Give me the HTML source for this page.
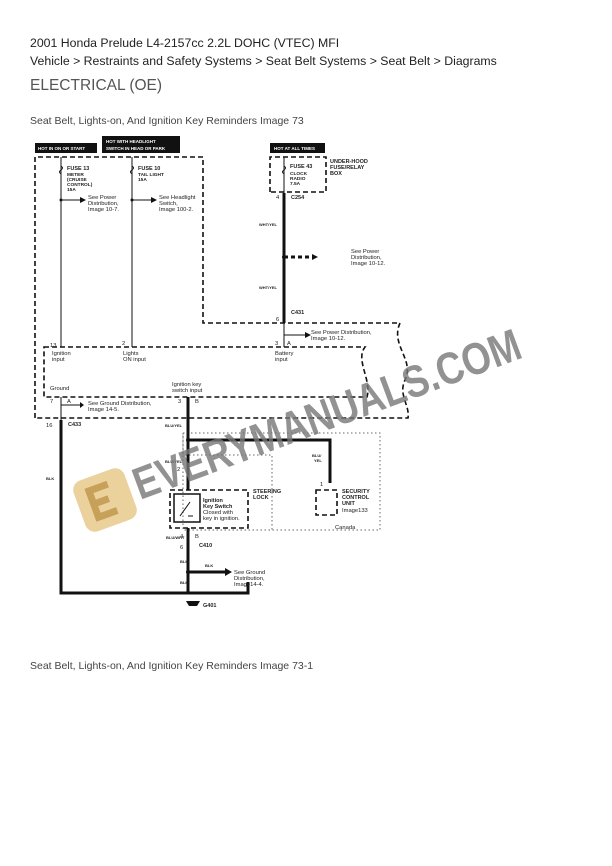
<!DOCTYPE html>
<html><head><meta charset="utf-8"><style>
html,body{margin:0;padding:0;background:#fff;}
body{width:612px;height:866px;position:relative;overflow:hidden;font-family:"Liberation Sans",sans-serif;}
.t{position:absolute;left:30px;white-space:nowrap;color:#222;}
</style></head><body>
<div class="t" style="top:36px;font-size:12.3px;">2001 Honda Prelude L4-2157cc 2.2L DOHC (VTEC) MFI</div>
<div class="t" style="top:54px;font-size:12.3px;">Vehicle &gt; Restraints and Safety Systems &gt; Seat Belt Systems &gt; Seat Belt &gt; Diagrams</div>
<div class="t" style="top:77px;font-size:15.5px;color:#555;">ELECTRICAL (OE)</div>
<div class="t" style="top:115px;font-size:10.5px;color:#444;">Seat Belt, Lights-on, And Ignition Key Reminders Image 73</div>
<div class="t" style="top:660px;font-size:10.5px;color:#444;">Seat Belt, Lights-on, And Ignition Key Reminders Image 73-1</div>
<svg width="612" height="866" style="position:absolute;left:0;top:0" font-family="Liberation Sans, sans-serif">
<g fill="#111">
<rect x="35" y="143" width="62" height="10"/><rect x="102" y="136" width="78" height="17"/><rect x="270" y="143" width="55" height="10"/>
</g>
<g fill="#fff" font-size="4.5" font-weight="bold">
<text x="38" y="150">HOT IN ON OR START</text>
<text x="106" y="143">HOT WITH HEADLIGHT</text><text x="106" y="150">SWITCH IN HEAD OR PARK</text>
<text x="274" y="150">HOT AT ALL TIMES</text>
</g>
<g fill="none" stroke="#111" stroke-width="1.6" stroke-dasharray="5,3">
<path d="M35 418 V157 H203 V323 H400 C390 345,415 360,405 380 C398 395,410 405,408 418 H35"/>
<path d="M44 347 H365 C355 360,372 380,367 397 H44 Z"/>
<path d="M270 192 V157 H326 V192 Z"/>
<rect x="170" y="490" width="78" height="38"/>
<rect x="316" y="490" width="21" height="25"/>
</g>
<path d="M183 433 H380 V530 H183 Z M183 433 V455 H272 V530" fill="none" stroke="#666" stroke-width="1" stroke-dasharray="1.5,2.5"/>
<g stroke="#111" fill="none" stroke-width="1">
<path d="M61 157 V347 M132 157 V347 M284 157 V347 M61 397 V420"/>
<path d="M61 166 q3 2 0 4 q-3 2 0 4 M132 166 q3 2 0 4 q-3 2 0 4 M284 166 q3 2 0 4 q-3 2 0 4"/>
<path d="M61 200 H80 M132 200 H151 M284 335 H305 M61 405 H80"/>
</g>
<g stroke="#111" fill="none" stroke-width="3">
<path d="M284 193 V323"/>
<path d="M188 397 V490 M188 440 H330 V483 M188 528 V593 M61 420 V593 H248 V582 M188 572 H225"/>
<path d="M284 257 H312" stroke-dasharray="4,3"/>
</g>
<g fill="#111">
<polygon points="80,197 86,200 80,203"/><polygon points="151,197 157,200 151,203"/><polygon points="305,332 311,335 305,338"/><polygon points="312,254 318,257 312,260"/>
<polygon points="80,402 80,408 84,405"/><polygon points="225,568 225,576 232,572"/>
<circle cx="61" cy="200" r="1.5"/><circle cx="132" cy="200" r="1.5"/><circle cx="284" cy="257" r="2"/><circle cx="188" cy="440" r="2"/><circle cx="188" cy="572" r="2"/>
<path d="M186 601 h14 l-3 5 h-8z"/>
</g>
<rect x="174" y="494" width="26" height="28" fill="none" stroke="#111" stroke-width="1.5"/>
<path d="M180 516 L190 502 M188 516 h5" stroke="#111" stroke-width="1"/>
<g fill="#222" font-size="4.8" font-weight="bold">
<text x="67" y="170" font-size="5.5">FUSE 13</text><text x="67" y="176">METER</text><text x="67" y="181">(CRUISE</text><text x="67" y="186">CONTROL)</text><text x="67" y="191">15A</text>
<text x="138" y="170" font-size="5.5">FUSE 10</text><text x="138" y="176">TAIL LIGHT</text><text x="138" y="181">15A</text>
<text x="290" y="168" font-size="5.5">FUSE 43</text><text x="290" y="175">CLOCK</text><text x="290" y="180">RADIO</text><text x="290" y="185">7.5A</text>
<text x="330" y="163" font-size="5.5">UNDER-HOOD</text><text x="330" y="169" font-size="5.5">FUSE/RELAY</text><text x="330" y="175" font-size="5.5">BOX</text>
<text x="291" y="199" font-size="5.5">C254</text><text x="291" y="314" font-size="5.5">C431</text><text x="68" y="426" font-size="5.5">C433</text>
<text x="199" y="547" font-size="5.5">C410</text><text x="203" y="607" font-size="5.5">G401</text>
<text x="253" y="493" font-size="5.5">STEERING</text><text x="253" y="499" font-size="5.5">LOCK</text>
<text x="203" y="502" font-size="5.5">Ignition</text><text x="203" y="508" font-size="5.5">Key Switch</text>
<text x="342" y="493" font-size="5.5">SECURITY</text><text x="342" y="499" font-size="5.5">CONTROL</text><text x="342" y="505" font-size="5.5">UNIT</text>
<text x="259" y="226" font-size="4">WHT/YEL</text><text x="259" y="289" font-size="4">WHT/YEL</text>
<text x="165" y="427" font-size="4">BLU/YEL</text><text x="165" y="463" font-size="4">BLU/YEL</text><text x="312" y="457" font-size="4">BLU/</text><text x="314" y="462" font-size="4">YEL</text>
<text x="166" y="539" font-size="4">BLU/WHT</text><text x="180" y="563" font-size="4">BLK</text><text x="205" y="567" font-size="4">BLK</text><text x="180" y="584" font-size="4">BLK</text><text x="46" y="480" font-size="4">BLK</text>
</g>
<g fill="#222" font-size="5.8">
<text x="88" y="199">See Power</text><text x="88" y="205">Distribution,</text><text x="88" y="211">Image 10-7.</text>
<text x="159" y="199">See Headlight</text><text x="159" y="205">Switch,</text><text x="159" y="211">Image 100-2.</text>
<text x="351" y="253">See Power</text><text x="351" y="259">Distribution,</text><text x="351" y="265">Image 10-12.</text>
<text x="311" y="334">See Power Distribution,</text><text x="311" y="340">Image 10-12.</text>
<text x="88" y="405">See Ground Distribution,</text><text x="88" y="411">Image 14-5.</text>
<text x="52" y="355">Ignition</text><text x="52" y="361">input</text>
<text x="123" y="355">Lights</text><text x="123" y="361">ON input</text>
<text x="275" y="355">Battery</text><text x="275" y="361">input</text>
<text x="50" y="390">Ground</text><text x="172" y="386">Ignition key</text><text x="172" y="392">switch input</text>
<text x="203" y="514">Closed with</text><text x="203" y="520">key in ignition.</text>
<text x="342" y="512">Image133</text><text x="335" y="529">Canada</text>
<text x="234" y="574">See Ground</text><text x="234" y="580">Distribution,</text><text x="234" y="586">Image14-4.</text>
<text x="50" y="347">13</text><text x="122" y="345">2</text><text x="275" y="345">3</text><text x="287" y="345">A</text>
<text x="50" y="403">7</text><text x="67" y="403">A</text><text x="46" y="427">16</text><text x="178" y="403">3</text><text x="195" y="403">B</text>
<text x="276" y="199">4</text><text x="276" y="321">6</text><text x="177" y="471">2</text><text x="180" y="538">4</text><text x="195" y="538">B</text><text x="180" y="549">6</text><text x="320" y="486">1</text>
</g>
<g transform="translate(105,500) rotate(-20)">
<rect x="-27" y="-27" width="54" height="54" rx="10" fill="#e8c98a" opacity="0.85"/>
<path d="M8 -14 H-12 V14 H8 M-12 0 H4" stroke="#c7a05a" stroke-width="7" fill="none"/>
</g>
<text x="140" y="500" transform="rotate(-20.4 140 500)" font-size="45" font-weight="bold" fill="#777" opacity="0.8" textLength="410" lengthAdjust="spacingAndGlyphs">EVERYMANUALS.COM</text>
</svg>
</body></html>
